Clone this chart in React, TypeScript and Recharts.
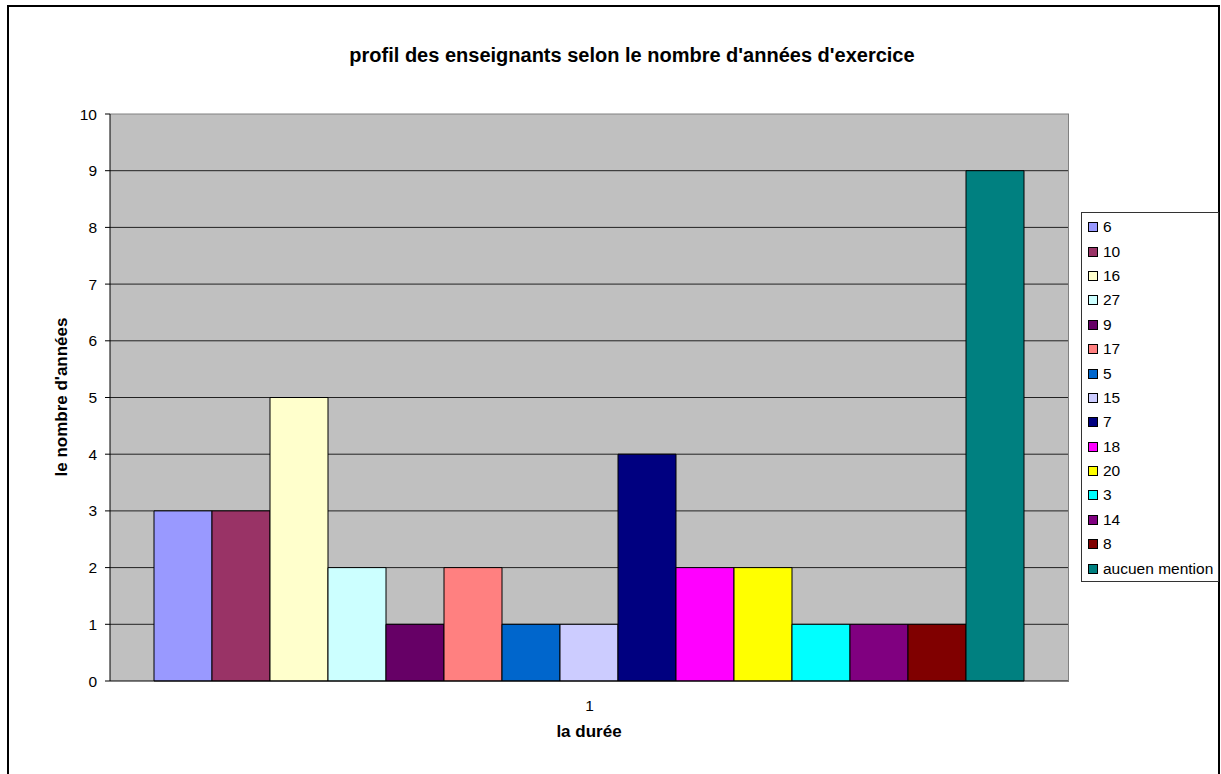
import React from "react"
import { BarChart, Bar, XAxis, YAxis, CartesianGrid, ReferenceLine } from "recharts"

// nombre d'années d'exercice (series) and their counts
const seriesNames = ["6", "10", "16", "27", "9", "17", "5", "15", "7", "18", "20", "3", "14", "8", "aucuen mention"]
const seriesValues = [3, 3, 5, 2, 1, 2, 1, 1, 4, 2, 2, 1, 1, 1, 9]
const seriesColors = [
  "#9999FF", "#993366", "#FFFFCC", "#CCFFFF", "#660066",
  "#FF8080", "#0066CC", "#CCCCFF", "#000080", "#FF00FF",
  "#FFFF00", "#00FFFF", "#800080", "#800000", "#008080",
]
const categories = ["1"]
const yTicks = [0, 1, 2, 3, 4, 5, 6, 7, 8, 9, 10]

const data = categories.map((cat) => {
  const row: Record<string, string | number> = { name: cat }
  seriesNames.forEach((s, i) => {
    row["s" + i] = seriesValues[i]
  })
  return row
})

const font = "'Liberation Sans', Arial, sans-serif"

// legend kept in series order, like the original
const LegendBox = () => (
  <div
    style={{
      position: "absolute",
      left: 1081,
      top: 212,
      width: 136,
      height: 366,
      border: "1px solid #333",
      background: "#fff",
      paddingTop: 2,
      fontSize: 15.5,
    }}
  >
    {seriesNames.map((s, i) => (
      <div key={s} style={{ height: 24.4, display: "flex", alignItems: "center" }}>
        <span
          style={{
            display: "inline-block",
            width: 8,
            height: 8,
            marginLeft: 6,
            marginRight: 5,
            background: seriesColors[i],
            border: "1px solid #000",
          }}
        />
        <span style={{ whiteSpace: "nowrap" }}>{s}</span>
      </div>
    ))}
  </div>
)

export default function App() {
  return (
    <div style={{ position: "absolute", left: 0, top: 0, width: 1221, height: 774, background: "#fff", fontFamily: font, overflow: "hidden" }}>
      <div
        style={{
          position: "absolute",
          left: 7,
          top: 5,
          width: 1209,
          height: 790,
          border: "2px solid #000",
        }}
      />
      <div
        style={{
          position: "absolute",
          left: 0,
          width: 1264,
          top: 44,
          textAlign: "center",
          fontWeight: "bold",
          fontSize: 20,
        }}
      >
        profil des enseignants selon le nombre d'années d'exercice
      </div>
      <div
        style={{
          position: "absolute",
          left: 62,
          top: 397,
          transform: "translate(-50%, -50%) rotate(-90deg)",
          fontWeight: "bold",
          fontSize: 17,
          whiteSpace: "nowrap",
        }}
      >
        le nombre d'années
      </div>
      <div
        style={{
          position: "absolute",
          left: 589,
          top: 722,
          transform: "translateX(-50%)",
          fontWeight: "bold",
          fontSize: 17,
          whiteSpace: "nowrap",
        }}
      >
        la durée
      </div>
      <div style={{ position: "absolute", left: 0, top: 0 }}>
        <BarChart
          width={1221}
          height={774}
          data={data}
          barCategoryGap={44}
          barGap={0}
          margin={{ top: 114, right: 152, left: 0, bottom: 63 }}
        >
          <CartesianGrid
            vertical={false}
            fill="#C0C0C0"
            stroke="#222"
            horizontalValues={[1, 2, 3, 4, 5, 6, 7, 8, 9]}
          />
          <ReferenceLine y={10} stroke="#808080" ifOverflow="extendDomain" />
          <XAxis
            dataKey="name"
            height={30}
            tickLine={false}
            tickSize={0}
            tickMargin={19}
            axisLine={{ stroke: "#000" }}
            tick={{ fill: "#000", fontSize: 15.5, fontFamily: font }}
          />
          <YAxis
            width={110}
            domain={[0, 10]}
            ticks={yTicks}
            interval={0}
            tickSize={5}
            tickMargin={8}
            axisLine={{ stroke: "#000" }}
            tickLine={{ stroke: "#000" }}
            tick={{ fill: "#000", fontSize: 15.5, fontFamily: font }}
          />
          {seriesNames.map((s, i) => (
            <Bar
              key={s}
              dataKey={"s" + i}
              name={s}
              fill={seriesColors[i]}
              stroke="#000"
              strokeWidth={1}
              isAnimationActive={false}
            />
          ))}
        </BarChart>
      </div>
      <div style={{ position: "absolute", left: 1068, top: 114, width: 1, height: 567, background: "#808080" }} />
      <LegendBox />
    </div>
  )
}
